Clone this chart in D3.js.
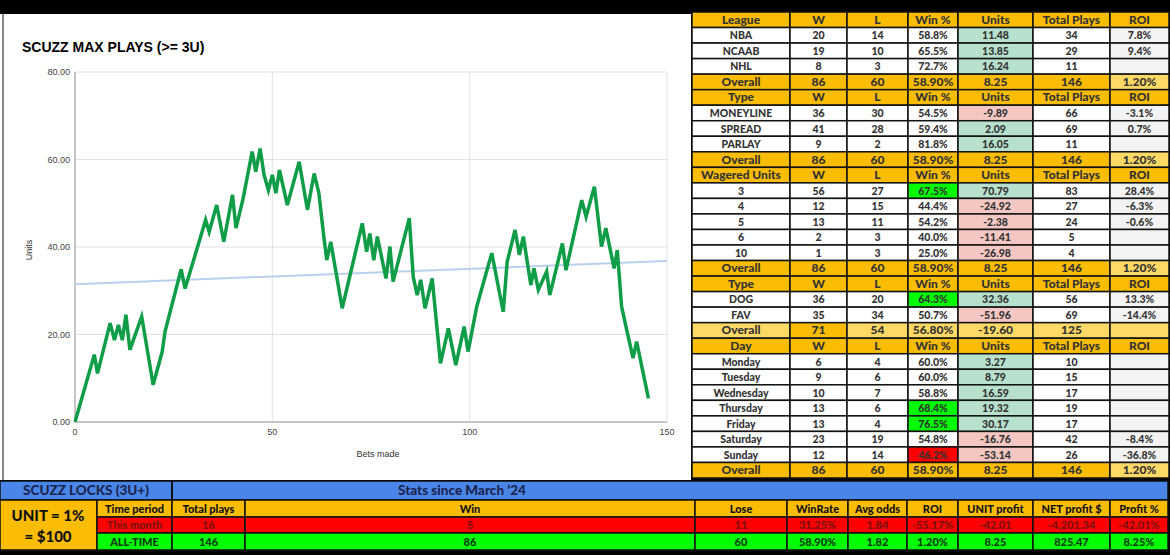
<!DOCTYPE html>
<html><head><meta charset="utf-8">
<script src="https://cdn.jsdelivr.net/npm/d3@7"></script>
<style>
body{margin:0;background:#000;}
svg{display:block;font-family:"Noto Sans",sans-serif;}
</style></head>
<body><svg id="c" width="1170" height="555"></svg>
<script>
// line vertices: bet number, cumulative units
const bets = [0,4.9,5.7,8.9,10,11,12,12.9,13.9,16.9,19.8,22.1,22.8,26.9,27.9,33.1,34,35.9,37.7,39.9,40.8,42.6,44.9,45.8,46.9,47.9,49,50,50.9,51.8,53.8,56.8,58.9,60.6,61.8,63,63.8,64.8,67.7,72.8,73.9,74.7,75.7,76.6,78.8,79.8,80.6,84.7,85.7,86.7,87.6,88.7,90.5,92.6,94.6,96.5,98.6,99.6,101.8,105.6,108.5,109.5,111.5,112.6,113.6,115.5,116.3,117.4,119.5,120.3,123.5,124.4,128.4,129.5,131.6,133.4,134.5,136.6,137.4,138.5,139.8,141.4,142.3,145.3];
const units = [0,15.4,11.1,22.6,18.7,22.2,18.7,24.5,16.5,24.1,8.5,16.1,20.6,34.9,30.5,46.2,43.5,49.6,41.2,51.9,44.3,51.1,61.8,57.2,62.5,56.5,53,56.5,52.3,57.6,49.6,59.5,48.5,56.8,52.3,42.7,37,41.2,26,45.4,38.9,43.1,37,42.4,32.8,40.1,32.1,46.6,33.2,29,32.5,26,32.8,13.4,21.4,13,21.8,16.1,26.4,38.6,25.2,36.6,43.9,38.2,42.4,31.3,35.1,30.2,34.4,29,40.8,34.7,50.7,46.9,53.8,40.1,44.3,35.1,39.3,26.4,21,14.6,18.4,5.4];
const trend = [[0,31.5],[150,36.8]];
const xTicks = [0,50,100,150];
const yTicks = [0,20,40,60,80];

const headers = ["W","L","Win %","Units","Total Plays","ROI"];
const sections = [
  {title:"League", rows:[["NBA","20","14","58.8%","11.48","34","7.8%"],["NCAAB","19","10","65.5%","13.85","29","9.4%"],["NHL","8","3","72.7%","16.24","11",""]], overall:["Overall","86","60","58.90%","8.25","146","1.20%"]},
  {title:"Type", rows:[["MONEYLINE","36","30","54.5%","-9.89","66","-3.1%"],["SPREAD","41","28","59.4%","2.09","69","0.7%"],["PARLAY","9","2","81.8%","16.05","11",""]], overall:["Overall","86","60","58.90%","8.25","146","1.20%"]},
  {title:"Wagered Units", rows:[["3","56","27","67.5%","70.79","83","28.4%"],["4","12","15","44.4%","-24.92","27","-6.3%"],["5","13","11","54.2%","-2.38","24","-0.6%"],["6","2","3","40.0%","-11.41","5",""],["10","1","3","25.0%","-26.98","4",""]], overall:["Overall","86","60","58.90%","8.25","146","1.20%"]},
  {title:"Type", rows:[["DOG","36","20","64.3%","32.36","56","13.3%"],["FAV","35","34","50.7%","-51.96","69","-14.4%"]], overall:["Overall","71","54","56.80%","-19.60","125",""], light:true},
  {title:"Day", rows:[["Monday","6","4","60.0%","3.27","10",""],["Tuesday","9","6","60.0%","8.79","15",""],["Wednesday","10","7","58.8%","16.59","17",""],["Thursday","13","6","68.4%","19.32","19",""],["Friday","13","4","76.5%","30.17","17",""],["Saturday","23","19","54.8%","-16.76","42","-8.4%"],["Sunday","12","14","46.2%","-53.14","26","-36.8%"]], overall:["Overall","86","60","58.90%","8.25","146","1.20%"]}
];
const hotWin = {"67.5%":"#00ff00","64.3%":"#00ff00","68.4%":"#00ff00","76.5%":"#00ff00","46.2%":"#ff0000"};

const lockCols = ["Time period","Total plays","Win","Lose","WinRate","Avg odds","ROI","UNIT profit","NET profit $","Profit %"];
const lockMonth = ["This month","16","5","11","31.25%","1.84","-55.17%","-42.01","-4,201.34","-42.01%"];
const lockAll = ["ALL-TIME","146","86","60","58.90%","1.82","1.20%","8.25","825.47","8.25%"];

const svg = d3.select("#c");
const ORANGE = "#fbbc04";

// chart panel
svg.append("rect").attr("x",0).attr("y",14).attr("width",691).attr("height",466).attr("fill","#fff");
svg.append("line").attr("x1",3).attr("x2",3).attr("y1",14).attr("y2",480).attr("stroke","#888").attr("stroke-width",2);
svg.append("text").attr("x",22).attr("y",52).attr("font-size",14).attr("font-weight","bold").attr("font-family","Arial, Liberation Sans, sans-serif").text("SCUZZ MAX PLAYS (>= 3U)");

const x = d3.scaleLinear().domain([0,150]).range([75,667]);
const y = d3.scaleLinear().domain([0,80]).range([422,72]);
const g = svg.append("g").attr("font-family","Arial, Liberation Sans, sans-serif");
g.selectAll(".hg").data(yTicks).join("line").attr("x1",75).attr("x2",667).attr("y1",y).attr("y2",y).attr("stroke","#e2e2e2");
g.selectAll(".vg").data(xTicks).join("line").attr("y1",72).attr("y2",422).attr("x1",x).attr("x2",x).attr("stroke","#e2e2e2");
g.append("line").attr("x1",75).attr("x2",667).attr("y1",422).attr("y2",422).attr("stroke","#999");
g.append("line").attr("x1",75).attr("x2",75).attr("y1",72).attr("y2",422).attr("stroke","#999");
g.selectAll(".yl").data(yTicks).join("text").attr("x",70).attr("y",d=>y(d)+3).attr("text-anchor","end").attr("font-size",9).attr("fill","#444").text(d=>d3.format(".2f")(d));
g.selectAll(".xl").data(xTicks).join("text").attr("x",x).attr("y",435).attr("text-anchor","middle").attr("font-size",9).attr("fill","#444").text(d=>d);
g.append("text").attr("transform","translate(32,250) rotate(-90)").attr("text-anchor","middle").attr("font-size",9).attr("fill","#333").text("Units");
g.append("text").attr("x",378).attr("y",457).attr("text-anchor","middle").attr("font-size",9).attr("fill","#333").text("Bets made");
g.append("path").datum(trend).attr("d",d3.line().x(d=>x(d[0])).y(d=>y(d[1]))).attr("stroke","#b9d0ec").attr("stroke-width",2).attr("fill","none");
g.append("path").datum(d3.zip(bets,units)).attr("d",d3.line().x(d=>x(d[0])).y(d=>y(d[1]))).attr("stroke","#0f9d48").attr("stroke-width",3.5).attr("fill","none");

// right tables
const colX = [692,790,847,908,958,1033,1110,1169];
const rows = [];
sections.forEach(s=>{
  rows.push({type:"hdr",cells:[s.title,...headers]});
  s.rows.forEach(r=>rows.push({type:"row",cells:r}));
  rows.push({type:"ovr",cells:s.overall,light:s.light});
});
const rTop = 12, rH = (478-12)/rows.length;
const tg = svg.append("g").attr("font-family","Lato, Noto Sans, sans-serif").attr("font-weight",900);
rows.forEach((r,i)=>{
  const yy = rTop + i*rH;
  r.cells.forEach((c,j)=>{
    let fill = "#fff";
    if (r.type==="hdr") fill = ORANGE;
    else if (r.type==="ovr") fill = r.light ? "#ffd966" : ORANGE;
    else {
      if (j===3 && hotWin[c]) fill = hotWin[c];
      if (j===4) fill = +c >= 0 ? "#b7e1cd" : "#f4c7c3";
      if (j===6) fill = "#f3f3f3";
    }
    if (r.type==="ovr" && j===6 && c) fill = "#ffd966";
    if (r.type==="ovr" && r.light && j===1) fill = ORANGE;
    tg.append("rect").attr("x",colX[j]).attr("y",yy).attr("width",colX[j+1]-colX[j]).attr("height",rH)
      .attr("fill",fill).attr("stroke","#111").attr("stroke-width",1.5);
    tg.append("text").attr("x",(colX[j]+colX[j+1])/2).attr("y",yy+rH/2+4).attr("text-anchor","middle")
      .attr("font-size",r.type==="row"?10.5:12).attr("fill","#333").text(c);
  });
});

// bottom locks table
const bx = [97,172,245,695,787,848,907,958,1033,1110,1168];
const bg = svg.append("g").attr("font-family","Lato, Noto Sans, sans-serif").attr("font-weight",900);
bg.append("rect").attr("x",0).attr("y",481).attr("width",1168).attr("height",19).attr("fill","#4a86e8").attr("stroke","#111").attr("stroke-width",1.5);
bg.append("line").attr("x1",172).attr("x2",172).attr("y1",481).attr("y2",500).attr("stroke","#111").attr("stroke-width",2);
bg.append("text").attr("x",86).attr("y",495).attr("text-anchor","middle").attr("font-size",13.5).attr("fill","#1c2450").text("SCUZZ LOCKS (3U+)");
bg.append("text").attr("x",462).attr("y",495).attr("text-anchor","middle").attr("font-size",13.5).attr("fill","#1c2450").text("Stats since March \u201924");
bg.append("rect").attr("x",0).attr("y",500).attr("width",97).attr("height",50).attr("fill",ORANGE).attr("stroke","#111").attr("stroke-width",1.5);
bg.append("text").attr("x",48).attr("y",521).attr("text-anchor","middle").attr("font-size",15).attr("fill","#111").text("UNIT = 1%");
bg.append("text").attr("x",48).attr("y",542).attr("text-anchor","middle").attr("font-size",15).attr("fill","#111").text("= $100");
[[lockCols,ORANGE,"#111",500,17],[lockMonth,"#ff0000","#7a1010",517,16],[lockAll,"#00ff00","#0b3a0b",533,17]].forEach(([cells,fill,tc,yy,h])=>{
  cells.forEach((c,j)=>{
    bg.append("rect").attr("x",bx[j]).attr("y",yy).attr("width",bx[j+1]-bx[j]).attr("height",h).attr("fill",fill).attr("stroke","#111").attr("stroke-width",1.5);
    bg.append("text").attr("x",(bx[j]+bx[j+1])/2).attr("y",yy+h/2+4).attr("text-anchor","middle").attr("font-size",11).attr("fill",tc).text(c);
  });
});
</script></body></html>
